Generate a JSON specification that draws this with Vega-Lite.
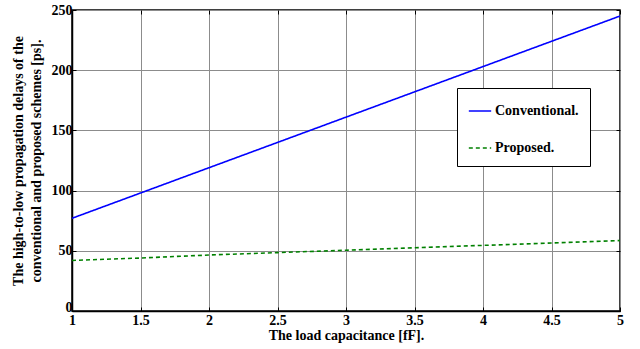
{
  "$schema": "https://vega.github.io/schema/vega-lite/v6.json",
  "autosize": {"type": "none"},
  "padding": {"left": 72, "top": 10, "right": 20, "bottom": 38},
  "width": 548,
  "height": 301,
  "background": "white",
  "config": {
    "font": "Liberation Serif",
    "view": {"stroke": "black", "strokeWidth": 1.5},
    "axis": {
      "labelFont": "Liberation Serif",
      "labelFontWeight": "bold",
      "labelFontSize": 14,
      "labelColor": "black",
      "titleFont": "Liberation Serif",
      "titleFontWeight": "bold",
      "titleFontSize": 14,
      "titleColor": "black",
      "gridColor": "#8c8c8c",
      "gridOpacity": 1,
      "gridWidth": 1,
      "domainColor": "black",
      "domainWidth": 1.5,
      "tickColor": "black",
      "tickSize": -4,
      "tickWidth": 1
    }
  },
  "data": {
    "values": [
      {"c": 1, "d": 77, "s": "Conventional."},
      {"c": 1.5, "d": 98, "s": "Conventional."},
      {"c": 2, "d": 119, "s": "Conventional."},
      {"c": 2.5, "d": 140, "s": "Conventional."},
      {"c": 3, "d": 161, "s": "Conventional."},
      {"c": 3.5, "d": 182, "s": "Conventional."},
      {"c": 4, "d": 203, "s": "Conventional."},
      {"c": 4.5, "d": 224, "s": "Conventional."},
      {"c": 5, "d": 245, "s": "Conventional."},
      {"c": 1, "d": 42, "s": "Proposed."},
      {"c": 1.5, "d": 44, "s": "Proposed."},
      {"c": 2, "d": 46.5, "s": "Proposed."},
      {"c": 2.5, "d": 48.5, "s": "Proposed."},
      {"c": 3, "d": 50.5, "s": "Proposed."},
      {"c": 3.5, "d": 52.5, "s": "Proposed."},
      {"c": 4, "d": 54.5, "s": "Proposed."},
      {"c": 4.5, "d": 56.5, "s": "Proposed."},
      {"c": 5, "d": 58.5, "s": "Proposed."}
    ]
  },
  "layer": [
    {
      "mark": {"type": "line", "strokeWidth": 1.6},
      "encoding": {
        "x": {
          "field": "c",
          "type": "quantitative",
          "scale": {"domain": [1, 5], "nice": false},
          "axis": {
            "values": [1, 1.5, 2, 2.5, 3, 3.5, 4, 4.5, 5],
            "format": "~g",
            "title": "The load capacitance [fF].",
            "titlePadding": 1,
            "labelPadding": 6,
            "labelFlush": false
          }
        },
        "y": {
          "field": "d",
          "type": "quantitative",
          "scale": {"domain": [0, 250], "nice": false},
          "axis": {
            "values": [0, 50, 100, 150, 200, 250],
            "title": ["The high-to-low  propagation delays of the", "conventional and proposed schemes [ps]."],
            "titlePadding": 8,
            "titleLineHeight": 18,
            "labelPadding": 4,
            "labelOffset": {"condition": {"test": "datum.value == 0", "value": -4}, "value": 0}
          }
        },
        "color": {
          "field": "s",
          "type": "nominal",
          "scale": {"domain": ["Conventional.", "Proposed."], "range": ["#0000ff", "#008000"]},
          "legend": {
            "title": null,
            "orient": "none",
            "legendX": 385,
            "legendY": 78,
            "fillColor": "white",
            "strokeColor": "black",
            "padding": 11,
            "rowPadding": 18,
            "symbolType": "stroke",
            "symbolSize": 500,
            "symbolStrokeWidth": 1.6,
            "labelFont": "Liberation Serif",
            "labelFontWeight": "bold",
            "labelFontSize": 14,
            "labelColor": "black",
            "labelOffset": 3
          }
        },
        "strokeDash": {
          "field": "s",
          "type": "nominal",
          "scale": {"domain": ["Conventional.", "Proposed."], "range": [[1, 0], [4, 3]]},
          "legend": null
        }
      }
    },
    {
      "mark": {"type": "line", "opacity": 0},
      "encoding": {
        "x": {
          "field": "c",
          "type": "quantitative",
          "axis": {
            "orient": "top",
            "values": [1, 1.5, 2, 2.5, 3, 3.5, 4, 4.5, 5],
            "labels": false,
            "grid": false,
            "domain": false,
            "title": null
          }
        },
        "y": {
          "field": "d",
          "type": "quantitative",
          "axis": {
            "orient": "right",
            "values": [0, 50, 100, 150, 200, 250],
            "labels": false,
            "grid": false,
            "domain": false,
            "title": null
          }
        },
        "detail": {"field": "s"}
      }
    }
  ],
  "resolve": {"axis": {"x": "independent", "y": "independent"}}
}
